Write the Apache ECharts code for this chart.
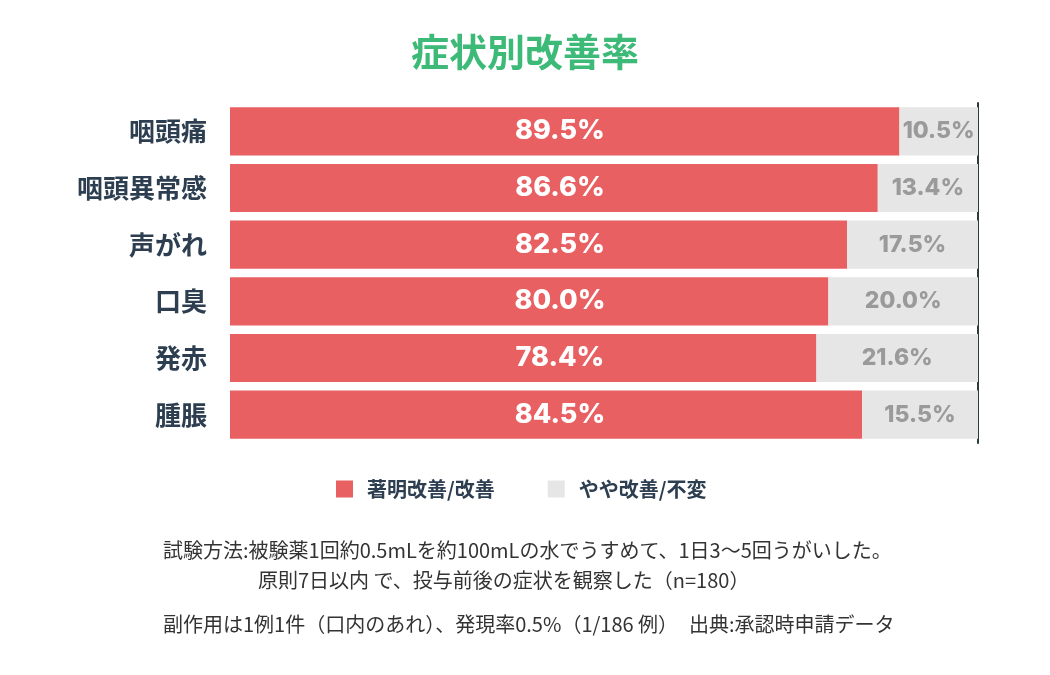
<!DOCTYPE html>
<html>
<head>
<meta charset="utf-8">
<script src="https://cdn.jsdelivr.net/npm/echarts@6/dist/echarts.min.js"></script>
<style>
  html, body { margin: 0; padding: 0; background: #fff; }
  #chart { width: 1050px; height: 675px; }
</style>
</head>
<body>
<div id="chart"></div>
<script>
// Symptoms (top to bottom)
const symptoms = ['咽頭痛', '咽頭異常感', '声がれ', '口臭', '発赤', '腫脹'];
// 著明改善/改善
const improved = [89.5, 86.6, 82.5, 80.0, 78.4, 84.5];
// やや改善/不変
const unchanged = [10.5, 13.4, 17.5, 20.0, 21.6, 15.5];

const seriesNames = ['著明改善/改善', 'やや改善/不変'];
const notes = [
    '試験方法:被験薬1回約0.5mLを約100mLの水でうすめて、1日3〜5回うがいした。',
    '原則7日以内 で、投与前後の症状を観察した（n=180）',
    '副作用は1例1件（口内のあれ）、発現率0.5%（1/186 例）',
    '出典:承認時申請データ'
];

const jpFont = '"Noto Sans CJK JP", sans-serif';
const numFont = 'Inter, "DejaVu Sans", sans-serif';

const chart = echarts.init(document.getElementById('chart'));

const pct = (p) => p.value.toFixed(1) + '%';

chart.setOption({
    animation: false,
    title: {
        text: '症状別改善率',
        left: 'center',
        top: 28,
        textStyle: { color: '#3dba78', fontSize: 38, fontWeight: 'bold', fontFamily: jpFont }
    },
    legend: {
        data: seriesNames,
        left: 331,
        top: 474,
        icon: 'rect',
        itemWidth: 17,
        itemHeight: 17,
        itemGap: 53,
        textStyle: { color: '#2c3e50', fontSize: 20, fontWeight: 'bold', fontFamily: jpFont, padding: [0, 0, 0, 9] }
    },
    grid: { left: 230, right: 72, top: 103, bottom: 232 },
    xAxis: {
        type: 'value',
        min: 0,
        max: 100,
        show: false
    },
    yAxis: [
        {
            type: 'category',
            data: symptoms,
            inverse: true,
            axisLine: { show: false },
            axisTick: { show: false },
            axisLabel: {
                color: '#2c3e50',
                fontSize: 26,
                fontWeight: 'bold',
                fontFamily: jpFont,
                margin: 23
            }
        },
        {
            type: 'category',
            data: symptoms,
            inverse: true,
            position: 'right',
            axisLine: { show: true, lineStyle: { color: '#2d3d38', width: 2 } },
            axisTick: { show: false },
            axisLabel: { show: false }
        }
    ],
    series: [
        {
            name: seriesNames[0],
            type: 'bar',
            stack: 'total',
            barCategoryGap: '15%',
            data: improved,
            itemStyle: { color: '#e86062' },
            label: {
                show: true,
                position: [330, '50%'],
                align: 'center',
                verticalAlign: 'middle',
                formatter: pct,
                color: '#fff',
                fontSize: 27,
                fontWeight: 800,
                fontFamily: numFont
            }
        },
        {
            name: seriesNames[1],
            type: 'bar',
            stack: 'total',
            data: unchanged,
            itemStyle: { color: '#e6e6e6' },
            label: {
                show: true,
                position: 'inside',
                formatter: pct,
                color: '#9a9a9a',
                fontSize: 23,
                fontWeight: 800,
                fontFamily: numFont
            }
        }
    ],
    graphic: [
        { type: 'text', left: 163, top: 540, style: { text: notes[0], fill: '#333', fontSize: 20, fontFamily: jpFont } },
        { type: 'text', left: 258, top: 570, style: { text: notes[1], fill: '#333', fontSize: 20, fontFamily: jpFont } },
        { type: 'text', left: 163, top: 614, style: { text: notes[2], fill: '#333', fontSize: 20, fontFamily: jpFont } },
        { type: 'text', left: 689, top: 614, style: { text: notes[3], fill: '#333', fontSize: 20, fontFamily: jpFont } }
    ]
});
</script>
</body>
</html>
